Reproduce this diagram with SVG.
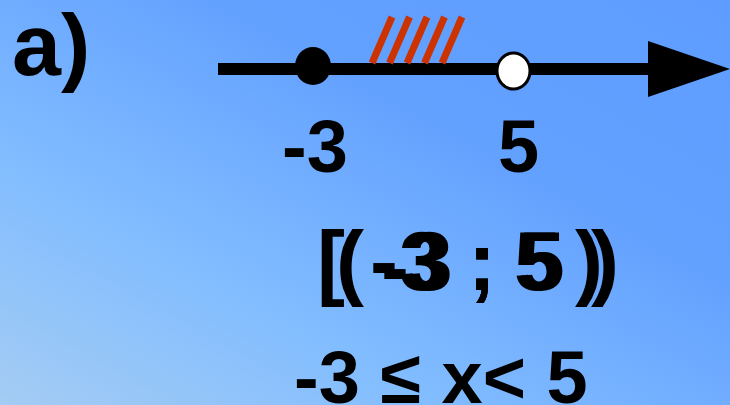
<svg xmlns="http://www.w3.org/2000/svg" width="730" height="405" viewBox="0 0 730 405">
<defs>
<linearGradient id="bg" x1="0" y1="1" x2="1" y2="0">
<stop offset="0" stop-color="#a4ccf3"/>
<stop offset="0.3" stop-color="#82bdff"/>
<stop offset="0.65" stop-color="#63a1ff"/>
<stop offset="1" stop-color="#5e9cff"/>
</linearGradient>
<style>
.t{font-family:"Liberation Sans",Arial,sans-serif;font-weight:bold;fill:#000}
.h{stroke:#cc3300;stroke-width:7}
</style>
</defs>
<rect width="730" height="405" fill="url(#bg)"/>
<text class="t" x="12" y="75" font-size="88">a)</text>
<g id="axis">
<line x1="218" y1="69" x2="650" y2="69" stroke="#000" stroke-width="12"/>
<polygon points="648,41 730,69 648,97" fill="#000"/>
</g>
<g id="hatch">
<line class="h" x1="372" y1="63" x2="392" y2="17"/>
<line class="h" x1="389.5" y1="63" x2="409.5" y2="17"/>
<line class="h" x1="407" y1="63" x2="427" y2="17"/>
<line class="h" x1="424.5" y1="63" x2="444.5" y2="17"/>
<line class="h" x1="442" y1="63" x2="462" y2="17"/>
</g>
<g id="p-3"><ellipse cx="313" cy="66" rx="18" ry="19" fill="#000"/></g>
<g id="p5"><ellipse cx="513.5" cy="71" rx="16.5" ry="18" fill="#fff" stroke="#000" stroke-width="3"/></g>
<text class="t" x="282" y="172" font-size="74">-3</text>
<text class="t" x="498" y="172" font-size="74">5</text>
<g id="interval">
<text class="t" font-size="84" x="336 381 406 468 518 591" y="290 296 290 290 290 290">(-3;5)</text>
<text class="t" font-size="84" y="290" x="317 370 399 468 514 575">[-3;5)</text>
</g>
<text class="t" x="294" y="403" font-size="74">-3 ≤ x&lt; 5</text>
</svg>
